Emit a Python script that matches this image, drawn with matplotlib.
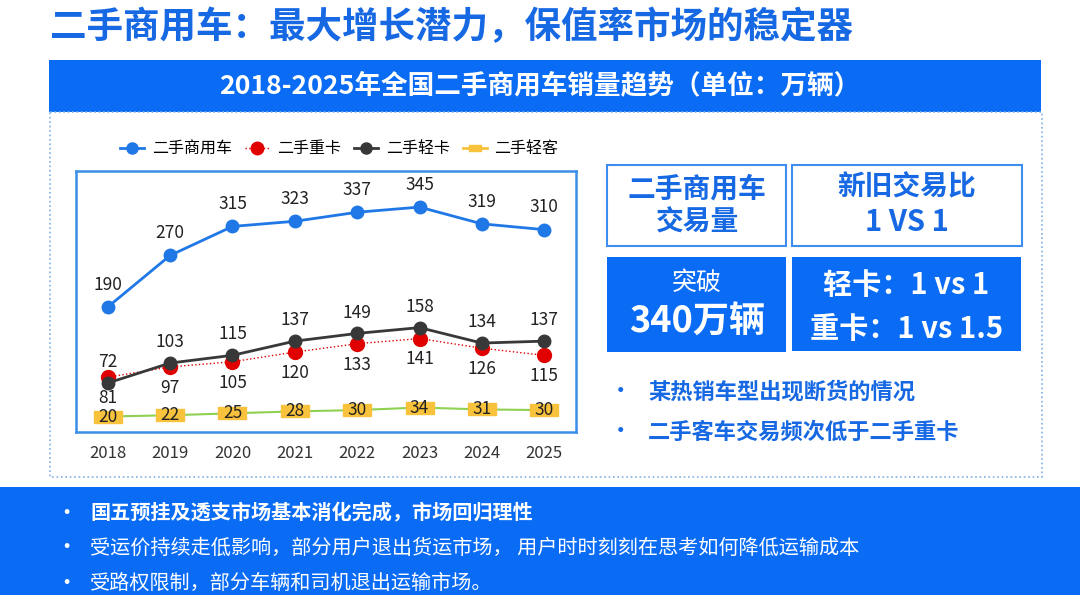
import matplotlib
matplotlib.use('Agg')
import matplotlib.pyplot as plt
from matplotlib.patches import Rectangle
from matplotlib.lines import Line2D

plt.rcParams['font.family'] = ['Noto Sans CJK SC', 'DejaVu Sans']

# data (万辆)
years = ['2018', '2019', '2020', '2021', '2022', '2023', '2024', '2025']
total = [190, 270, 315, 323, 337, 345, 319, 310]   # 二手商用车
heavy = [81, 97, 105, 120, 133, 141, 126, 115]     # 二手重卡
light = [72, 103, 115, 137, 149, 158, 134, 137]    # 二手轻卡
bus = [20, 22, 25, 28, 30, 34, 31, 30]             # 二手轻客

title = '二手商用车：最大增长潜力，保值率市场的稳定器'
subtitle = '2018-2025年全国二手商用车销量趋势（单位：万辆）'
side_bullets = ['某热销车型出现断货的情况', '二手客车交易频次低于二手重卡']
bottom_bullets = ['国五预挂及透支市场基本消化完成，市场回归理性',
                  '受运价持续走低影响，部分用户退出货运市场， 用户时时刻刻在思考如何降低运输成本',
                  '受路权限制，部分车辆和司机退出运输市场。']

BLUE = '#0a6cf5'
TBLUE = '#1668e3'
C_TOTAL = '#1f78e6'
C_HEAVY = '#e00000'
C_LIGHT = '#383838'
C_BUSL = '#8fd150'
C_BUSM = '#f9c23c'

W, H = 1080, 595
fig = plt.figure(figsize=(W / 100, H / 100), dpi=100)

# background layer in pixel coords
bg = fig.add_axes([0, 0, 1, 1])
bg.set_xlim(0, W)
bg.set_ylim(H, 0)
bg.axis('off')

bg.text(50, 28, title, fontsize=26.3, fontweight='bold', color=TBLUE, ha='left', va='center')
bg.add_patch(Rectangle((49, 60), 992, 52, color=BLUE, lw=0))
bg.text(540, 86, subtitle, fontsize=19.2, fontweight='bold', color='white', ha='center', va='center')
bg.add_patch(Rectangle((50, 112), 992, 365, fill=False, ec='#7fb0ea', lw=1.2, ls=':'))

# right boxes
bg.add_patch(Rectangle((607, 165), 179, 81, fc='white', ec='#3e8ef0', lw=1.5))
bg.add_patch(Rectangle((792, 165), 230, 81, fc='white', ec='#3e8ef0', lw=1.5))
bg.add_patch(Rectangle((607, 257), 179, 95, color=BLUE, lw=0))
bg.add_patch(Rectangle((792, 257), 229, 94, color=BLUE, lw=0))
bg.text(697, 189, '二手商用车', fontsize=20, fontweight='bold', color=TBLUE, ha='center', va='center')
bg.text(697, 223, '交易量', fontsize=20, fontweight='bold', color=TBLUE, ha='center', va='center')
bg.text(907, 187, '新旧交易比', fontsize=20, fontweight='bold', color=TBLUE, ha='center', va='center')
bg.text(907, 222, '1 VS 1', fontsize=21, fontweight='bold', color=TBLUE, ha='center', va='center')
bg.text(697, 283, '突破', fontsize=18, color='white', ha='center', va='center')
bg.text(697, 321, '340万辆', fontsize=26, fontweight='bold', color='white', ha='center', va='center')
bg.text(906, 285, '轻卡：1 vs 1', fontsize=21, fontweight='bold', color='white', ha='center', va='center')
bg.text(907, 329, '重卡：1 vs 1.5', fontsize=21, fontweight='bold', color='white', ha='center', va='center')
for i, s in enumerate(side_bullets):
    y = 392 + 40 * i
    bg.text(620, y, '•', fontsize=17, color=TBLUE, ha='center', va='center')
    bg.text(648, y, s, fontsize=16, fontweight='bold', color=TBLUE, ha='left', va='center')

# bottom band
bg.add_patch(Rectangle((0, 487), W, H - 487, color=BLUE, lw=0))
for i, s in enumerate(bottom_bullets):
    y = 513 + 35 * i
    bg.text(66, y, '•', fontsize=16, color='white', ha='center', va='center')
    bg.text(90, y, s, fontsize=14.5, fontweight='bold' if i == 0 else 'normal',
            color='white', ha='left', va='center')

# line chart
ax = fig.add_axes([76 / W, 1 - 432 / H, 500 / W, 261 / H])
x = list(range(len(years)))
rect = [(-1.2, -0.5), (1.2, -0.5), (1.2, 0.5), (-1.2, 0.5), (-1.2, -0.5)]

ax.plot(x, total, color=C_TOTAL, lw=2, marker='o', ms=9, zorder=4)
ax.plot(x, heavy, color=C_HEAVY, lw=1, ls=':', marker='o', ms=10, zorder=3)
ax.plot(x, light, color=C_LIGHT, lw=2, marker='o', ms=9, zorder=4)
ax.plot(x, bus, color=C_BUSL, lw=1.5, zorder=2)
ax.plot(x, bus, ls='none', marker=rect, ms=20, color=C_BUSM, zorder=3)

lab = dict(fontsize=12.5, color='#222222', ha='center', va='center', textcoords='offset points')
for i in x:
    ax.annotate(str(total[i]), (i, total[i]), xytext=(0, 16), **lab)
    ax.annotate(str(light[i]), (i, light[i]), xytext=(0, 15), **lab)
    ax.annotate(str(heavy[i]), (i, heavy[i]), xytext=(0, -15), **lab)
    ax.annotate(str(bus[i]), (i, bus[i]), xytext=(0, 0), zorder=5, **lab)

ax.set_xlim(-0.51, 7.51)
ax.set_ylim(-4, 401)
ax.set_yticks([])
ax.set_xticks(x)
ax.set_xticklabels(years, fontsize=12, color='#333333')
ax.tick_params(axis='x', length=0, pad=9)
for sp in ax.spines.values():
    sp.set_color('#3b8ee8')
    sp.set_linewidth(1.8)

handles = [
    Line2D([], [], color=C_TOTAL, lw=2, marker='o', ms=8),
    Line2D([], [], color=C_HEAVY, lw=1, ls=':', marker='o', ms=9),
    Line2D([], [], color=C_LIGHT, lw=2, marker='o', ms=8),
    Line2D([], [], color=C_BUSM, lw=2, marker=rect, ms=9),
]
ax.legend(handles, ['二手商用车', '二手重卡', '二手轻卡', '二手轻客'],
          loc='center', bbox_to_anchor=(0.527, 1.085), ncol=4, frameon=False,
          fontsize=11.5, handlelength=1.5, handletextpad=0.5, columnspacing=0.8)

fig.savefig('out.png', dpi=100)
